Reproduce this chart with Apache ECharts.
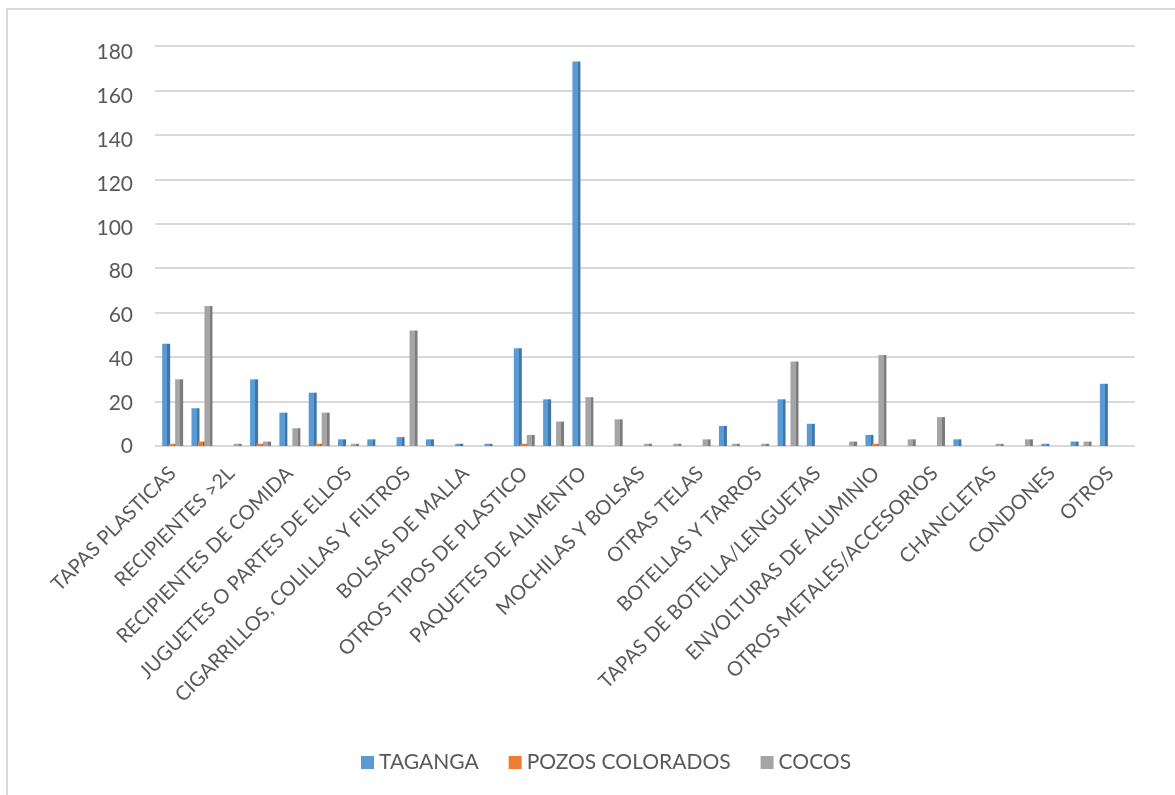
<!DOCTYPE html>
<html><head><meta charset="utf-8">
<script src="https://cdn.jsdelivr.net/npm/echarts@6/dist/echarts.min.js"></script>
<style>
html,body{margin:0;padding:0;background:#fff;overflow:hidden;}
#frame{position:absolute;left:6px;top:8px;width:1180px;height:800px;border-left:2px solid #d9d9d9;border-top:2px solid #d9d9d9;}
#chart{position:absolute;left:0;top:0;width:1175px;height:795px;}
</style>
</head><body><div id="frame"></div><div id="chart"></div>
<script>
const categories = [
  'TAPAS PLASTICAS', 'BOTELLAS PLASTICAS', 'RECIPIENTES >2L', 'VASOS Y PLATOS',
  'RECIPIENTES DE COMIDA', 'CUBIERTOS Y PITILLOS', 'JUGUETES O PARTES DE ELLOS', 'ENCENDEDORES',
  'CIGARRILLOS, COLILLAS Y FILTROS', 'BOLSAS PLASTICAS', 'BOLSAS DE MALLA', 'CUERDAS Y REDES',
  'OTROS TIPOS DE PLASTICO', 'ICOPOR', 'PAQUETES DE ALIMENTO', 'ROPA',
  'MOCHILAS Y BOLSAS', 'ZAPATOS', 'OTRAS TELAS', 'FRAGMENTOS DE VIDRIO',
  'BOTELLAS Y TARROS', 'LATAS', 'TAPAS DE BOTELLA/LENGUETAS', 'ALAMBRES',
  'ENVOLTURAS DE ALUMINIO', 'PAPEL Y CARTON', 'OTROS METALES/ACCESORIOS', 'MADERA PROCESADA',
  'CHANCLETAS', 'GUANTES', 'CONDONES', 'PAÑALES', 'OTROS'
];
const taganga = [46,17,0,30,15,24,3,3,4,3,1,1,44,21,173,0,0,0,0,9,0,21,10,0,5,0,0,3,0,0,1,2,28];
const pozosColorados = [1,2,0,1,0,1,0,0,0,0,0,0,1,0,0,0,0,0,0,0,0,0,0,0,1,0,0,0,0,0,0,0,0];
const cocos = [30,63,1,2,8,15,1,0,52,0,0,0,5,11,22,12,1,1,3,1,1,38,0,2,41,3,13,0,1,3,0,2,0];
const seriesNames = ['TAGANGA', 'POZOS COLORADOS', 'COCOS'];
const seriesColors = ['#5B9BD5', '#ED7D31', '#A5A5A5'];
const sideColors = ['#3F75A8', '#B85E22', '#7C7C7C'];

const FONT = 'Lato';
const TXT = '#595959';

function face(c, d) {
  return new echarts.graphic.LinearGradient(0, 0, 1, 0, [
    {offset: 0, color: c}, {offset: 0.66, color: c},
    {offset: 0.66, color: d}, {offset: 1, color: d}
  ]);
}

const dataSets = [taganga, pozosColorados, cocos];
const chart = echarts.init(document.getElementById('chart'));
chart.setOption({
  backgroundColor: 'transparent',
  animation: false,
  grid: [
    {left: 155, right: 40, top: 46, bottom: 349},
    {left: 158, right: 50, top: 46, bottom: 349},
    {left: 158, right: 50, top: 52.7, bottom: 348.3}
  ],
  xAxis: [
    {gridIndex: 0, type: 'category', data: [], show: false},
    {
      gridIndex: 1, type: 'category', data: categories,
      axisLine: {show: false}, axisTick: {show: false},
      axisLabel: {interval: 1, rotate: 45, margin: 24, color: TXT, fontFamily: FONT, fontSize: 20}
    },
    {gridIndex: 2, type: 'category', data: [], show: false}
  ],
  yAxis: [
    {
      gridIndex: 0, type: 'value', min: 0, max: 180, interval: 20,
      axisLine: {show: false}, axisTick: {show: false}, axisLabel: {show: false},
      splitLine: {lineStyle: {color: '#D9D9D9', width: 2}}
    },
    {
      gridIndex: 1, type: 'value', min: 0, max: 180, interval: 20,
      axisLine: {show: false}, axisTick: {show: false}, splitLine: {show: false},
      axisLabel: {show: false}
    },
    {
      gridIndex: 2, type: 'value', min: 0, max: 180, interval: 20,
      axisLine: {show: false}, axisTick: {show: false}, splitLine: {show: false},
      axisLabel: {margin: 25, color: TXT, fontFamily: FONT, fontSize: 21}
    }
  ],
  legend: {
    left: 356, top: 747,
    itemWidth: 13, itemHeight: 13, itemGap: 30, icon: 'rect',
    textStyle: {color: TXT, fontFamily: FONT, fontSize: 21},
    data: seriesNames.map((n, i) => ({name: n, itemStyle: {color: seriesColors[i]}}))
  },
  series: seriesNames.map((n, i) => ({
    name: n, type: 'bar', xAxisIndex: 1, yAxisIndex: 1,
    data: dataSets[i], barWidth: 8, barGap: '-19%',
    itemStyle: {color: face(seriesColors[i], sideColors[i])}
  }))
});
</script>
</body></html>
